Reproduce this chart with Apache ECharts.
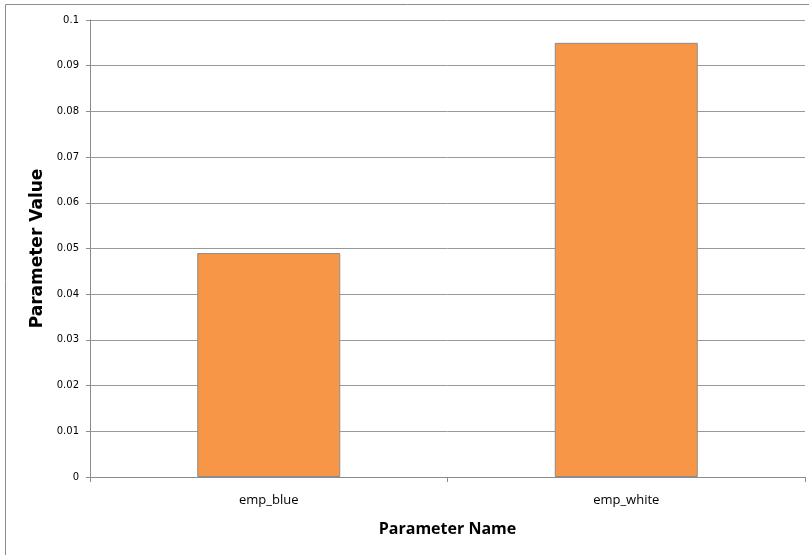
<!DOCTYPE html>
<html>
<head>
<meta charset="utf-8">
<script src="https://cdn.jsdelivr.net/npm/echarts@6/dist/echarts.min.js"></script>
<style>
html,body{margin:0;padding:0;background:#fff;}
#chart{width:809px;height:555px;}
</style>
</head>
<body>
<div id="chart"></div>
<script>
// Parameter estimates
var categories = ['emp_blue', 'emp_white'];
var values = [0.049, 0.095];
var yTicks = { min: 0, max: 0.1, interval: 0.01 };

var chart = echarts.init(document.getElementById('chart'), null, { renderer: 'canvas' });
var labelFont = '"Open Sans", "DejaVu Sans", sans-serif';
var tickFont = '"DejaVu Sans", sans-serif';

chart.setOption({
  animation: false,
  backgroundColor: '#fff',
  graphic: [{
    type: 'rect',
    shape: { x: 5.5, y: 4.5, width: 900, height: 700 },
    style: { fill: 'none', stroke: '#8c8c8c', lineWidth: 1 },
    silent: true
  }],
  grid: { left: 90, right: 4, top: 20, bottom: 78 },
  xAxis: {
    type: 'category',
    data: categories,
    name: 'Parameter Name',
    nameLocation: 'middle',
    nameGap: 44,
    nameTextStyle: { fontFamily: labelFont, fontWeight: 'bold', fontSize: 16, color: '#000' },
    axisLine: { lineStyle: { color: '#8c8c8c' } },
    axisTick: { show: true, length: 5, lineStyle: { color: '#8c8c8c' } },
    axisLabel: { fontFamily: labelFont, fontSize: 13, color: '#000', margin: 17 },
    splitLine: { show: false }
  },
  yAxis: {
    type: 'value',
    min: yTicks.min,
    max: yTicks.max,
    interval: yTicks.interval,
    name: 'Parameter Value',
    nameLocation: 'middle',
    nameGap: 42,
    nameTextStyle: { fontFamily: tickFont, fontWeight: 'bold', fontSize: 17, color: '#000' },
    axisLine: { show: true, lineStyle: { color: '#8c8c8c' } },
    axisTick: { show: true, length: 4, lineStyle: { color: '#8c8c8c' } },
    axisLabel: {
      fontFamily: tickFont, fontSize: 10, color: '#000', margin: 11,
      formatter: function (v) { return String(Math.round(v * 100) / 100); }
    },
    splitLine: { lineStyle: { color: '#999', width: 1 } }
  },
  series: [{
    type: 'bar',
    data: values,
    barWidth: '40%',
    itemStyle: { color: '#f79646', borderColor: '#8c8c8c', borderWidth: 1 }
  }]
});
</script>
</body>
</html>
